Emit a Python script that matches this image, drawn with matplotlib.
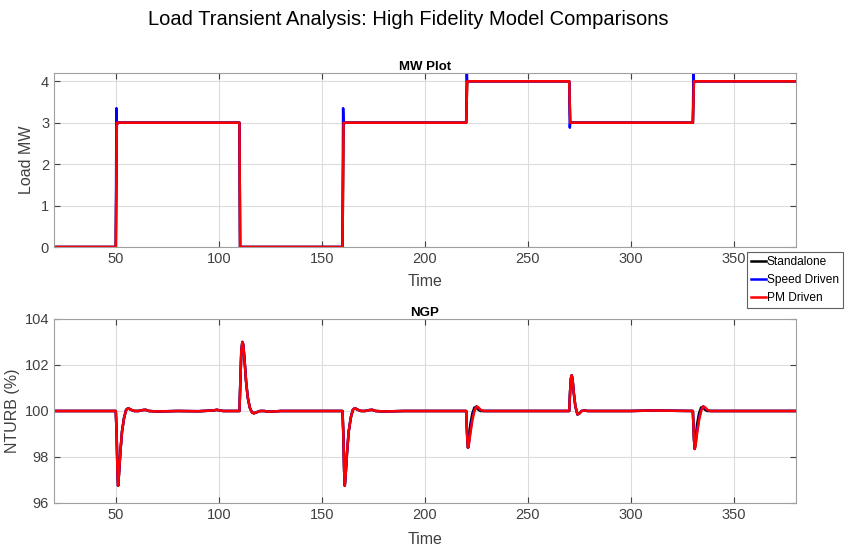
import numpy as np
import matplotlib
matplotlib.use("Agg")
from matplotlib import pyplot as plt

plt.rcParams['font.family'] = ['Liberation Sans', 'DejaVu Sans']

# ---- MW plot data ----
mw_time = [20, 50, 50.5, 110, 110.3, 160, 160.5, 220, 220.5, 270, 270.5, 330, 330.5, 380]
mw_standalone = [0, 0, 3, 3, 0, 0, 3, 3, 4, 4, 3, 3, 4, 4]
mw_pm = [0, 0, 3, 3, 0, 0, 3, 3, 4, 4, 3, 3, 4, 4]

mw_speed_time = [20, 50, 50.3, 50.5, 51.2, 110, 110.3, 160, 160.3, 160.5, 161.2,
                 220, 220.3, 220.5, 221.2, 270, 270.3, 270.5, 271.2,
                 330, 330.3, 330.5, 331.2, 380]
mw_speed = [0, 0, 3.35, 2.95, 3.0, 3, 0, 0, 3.35, 2.95, 3.0,
            3, 4.3, 3.97, 4.0, 4, 2.88, 3.02, 3.0,
            3, 4.3, 3.97, 4.0, 4]

# ---- NGP data ----
ngp_time = [20, 50, 50.4, 50.8, 51.1, 51.5, 52.2, 53, 54, 55, 56, 57.5, 59, 61, 63, 64.5, 66, 70, 80, 90, 97, 99, 102,
            110, 110.4, 110.9, 111.4, 111.8, 112.4, 113.2, 114, 115, 116, 117, 118.5, 120, 122, 124, 127, 130, 140, 150,
            160, 160.4, 160.8, 161.1, 161.5, 162.2, 163, 164, 165, 166, 167.5, 169, 171, 173, 174.5, 176, 180, 190, 200, 210,
            220, 220.3, 220.6, 220.9, 221.3, 222, 223, 224, 225, 226, 227, 228.5, 230, 240, 260,
            270, 270.4, 270.8, 271.2, 271.6, 272.2, 273, 274, 275, 276, 277.5, 279, 281, 285, 290, 300, 310,
            330, 330.3, 330.6, 330.9, 331.3, 332, 333, 334, 335, 336, 337, 338.5, 340, 345, 360, 380]

ngp_pm = [100, 100, 99.0, 97.4, 96.75, 97.2, 98.2, 99.1, 99.7, 100.05, 100.12, 100.05, 100.0, 100.0, 100.04, 100.05, 100.0, 99.98, 100.0, 99.99, 100.02, 100.05, 100.0,
          100.0, 101.2, 102.6, 103.0, 102.9, 102.3, 101.3, 100.6, 100.15, 99.95, 99.9, 99.95, 100.0, 100.0, 99.97, 99.98, 100.0, 100.0, 100.0,
          100.0, 99.0, 97.4, 96.75, 97.2, 98.2, 99.1, 99.7, 100.05, 100.12, 100.05, 100.0, 100.0, 100.04, 100.05, 100.0, 99.98, 100.0, 100.0, 100.0,
          100.0, 99.3, 98.7, 98.4, 98.55, 99.0, 99.6, 100.0, 100.2, 100.15, 100.05, 100.0, 100.0, 100.0, 100.0,
          100.0, 100.8, 101.4, 101.55, 101.4, 100.8, 100.2, 99.85, 99.9, 100.0, 100.02, 100.0, 100.0, 100.0, 100.0, 100.0, 100.02,
          100.0, 99.3, 98.7, 98.35, 98.5, 99.0, 99.6, 100.0, 100.2, 100.15, 100.05, 100.0, 100.0, 100.0, 100.0, 100.0]

ngp_speed = [100, 100, 99.0, 97.4, 96.75, 97.2, 98.2, 99.1, 99.7, 100.05, 100.12, 100.05, 100.0, 100.0, 100.04, 100.05, 100.0, 99.98, 100.0, 99.99, 100.02, 100.05, 100.0,
             100.0, 101.2, 102.6, 103.0, 102.9, 102.3, 101.3, 100.6, 100.15, 99.95, 99.9, 99.95, 100.0, 100.0, 99.97, 99.98, 100.0, 100.0, 100.0,
             100.0, 99.0, 97.4, 96.75, 97.2, 98.2, 99.1, 99.7, 100.05, 100.12, 100.05, 100.0, 100.0, 100.04, 100.05, 100.0, 99.98, 100.0, 100.0, 100.0,
             100.0, 99.3, 98.7, 98.4, 98.6, 99.1, 99.7, 100.05, 100.2, 100.12, 100.04, 100.0, 100.0, 100.0, 100.0,
             100.0, 100.8, 101.4, 101.55, 101.4, 100.8, 100.2, 99.85, 99.9, 100.0, 100.02, 100.0, 100.0, 100.0, 100.0, 100.0, 100.02,
             100.0, 99.3, 98.7, 98.35, 98.55, 99.1, 99.7, 100.05, 100.2, 100.12, 100.04, 100.0, 100.0, 100.0, 100.0, 100.0]

ngp_standalone = [100, 100, 99.0, 97.4, 96.75, 97.2, 98.2, 99.1, 99.7, 100.05, 100.12, 100.05, 100.0, 100.0, 100.04, 100.05, 100.0, 99.98, 100.0, 99.99, 100.02, 100.05, 100.0,
                  100.0, 101.2, 102.6, 103.0, 102.9, 102.3, 101.3, 100.6, 100.15, 99.95, 99.9, 99.95, 100.0, 100.0, 99.97, 99.98, 100.0, 100.0, 100.0,
                  100.0, 99.0, 97.4, 96.75, 97.2, 98.2, 99.1, 99.7, 100.05, 100.12, 100.05, 100.0, 100.0, 100.04, 100.05, 100.0, 99.98, 100.0, 100.0, 100.0,
                  100.0, 99.3, 98.7, 98.4, 98.8, 99.4, 99.9, 100.15, 100.15, 100.05, 100.0, 100.0, 100.0, 100.0, 100.0,
                  100.0, 100.8, 101.4, 101.55, 101.4, 100.8, 100.2, 99.85, 99.9, 100.0, 100.02, 100.0, 100.0, 100.0, 100.0, 100.0, 100.02,
                  100.0, 99.3, 98.7, 98.35, 98.75, 99.4, 99.9, 100.15, 100.15, 100.05, 100.0, 100.0, 100.0, 100.0, 100.0, 100.0]

labels = ['Standalone', 'Speed Driven', 'PM Driven']
colors = ['black', 'blue', 'red']

fig = plt.figure(figsize=(8.46, 5.5), dpi=100)
fig.suptitle("Load Transient Analysis: High Fidelity Model Comparisons", fontsize=14.5, x=0.482, y=0.982)

ax1 = fig.add_axes([0.0638, 0.5509, 0.877, 0.3164])
ax2 = fig.add_axes([0.0638, 0.0855, 0.877, 0.3345])


def style(ax):
    ax.grid(True, color='#dcdcdc', linewidth=0.8)
    ax.set_axisbelow(True)
    ax.tick_params(direction='in', top=True, right=True, labelsize=10.5,
                   colors='#404040', length=4, width=0.8)
    for s in ax.spines.values():
        s.set_color('#a0a0a0')
    ax.set_xlim(20, 380)
    ax.set_xticks([50, 100, 150, 200, 250, 300, 350])


ax1.plot(mw_time, mw_standalone, color=colors[0], lw=1.8, label=labels[0])
ax1.plot(mw_speed_time, mw_speed, color=colors[1], lw=1.8, label=labels[1])
ax1.plot(mw_time, mw_pm, color=colors[2], lw=1.8, label=labels[2])
style(ax1)
ax1.set_ylim(0, 4.2)
ax1.set_yticks([0, 1, 2, 3, 4])
ax1.set_title('MW Plot', fontsize=9.5, fontweight='bold', pad=2)
ax1.set_xlabel('Time', fontsize=11.5, color='#404040', labelpad=6)
ax1.set_ylabel('Load MW', fontsize=11.5, color='#404040', labelpad=5)

ax2.plot(ngp_time, ngp_standalone, color=colors[0], lw=1.8)
ax2.plot(ngp_time, ngp_speed, color=colors[1], lw=1.8)
ax2.plot(ngp_time, ngp_pm, color=colors[2], lw=1.8)
style(ax2)
ax2.set_ylim(96, 104)
ax2.set_yticks([96, 98, 100, 102, 104])
ax2.set_title('NGP', fontsize=9.5, fontweight='bold', pad=2)
ax2.set_xlabel('Time', fontsize=11.5, color='#404040', labelpad=7)
ax2.set_ylabel('NTURB (%)', fontsize=11.5, color='#404040', labelpad=3)

leg = fig.legend(loc='upper left', bbox_to_anchor=(0.883, 0.542), fontsize=8.6,
                 handlelength=1.2, handletextpad=0.1, borderpad=0.35,
                 labelspacing=0.5, borderaxespad=0, fancybox=False, framealpha=1)
leg.get_frame().set_edgecolor('#606060')
leg.get_frame().set_linewidth(0.8)

fig.savefig('out.png', dpi=100)
